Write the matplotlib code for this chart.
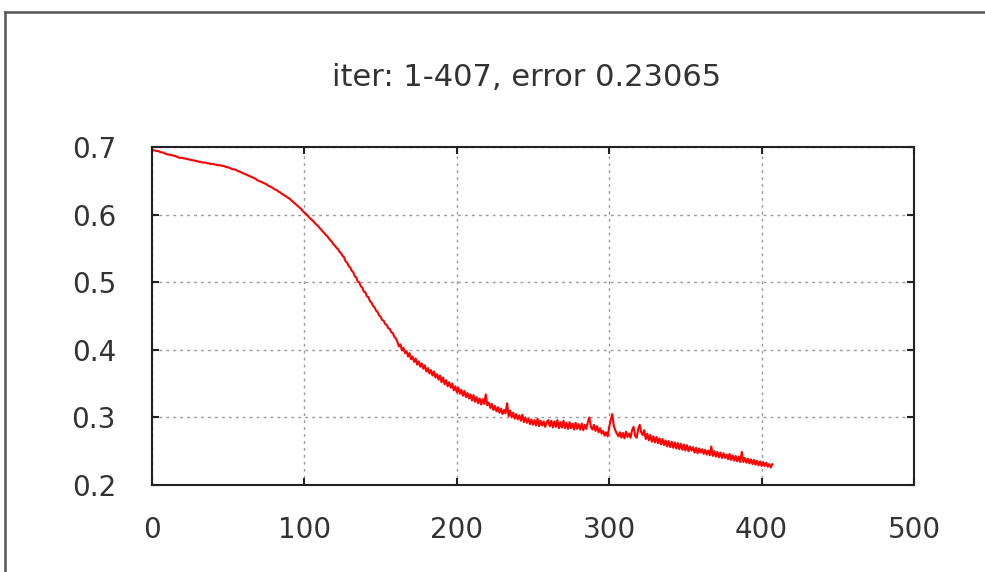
import numpy as np
import matplotlib.pyplot as plt
from matplotlib.lines import Line2D

# error per iteration (iter 1..407)
error = [
    0.695, 0.695, 0.694, 0.694, 0.693, 0.692, 0.692, 0.691, 0.690, 0.689,
    0.689, 0.688, 0.688, 0.687, 0.687, 0.686, 0.685, 0.684, 0.684, 0.684,
    0.683, 0.683, 0.682, 0.682, 0.681, 0.681, 0.680, 0.680, 0.679, 0.679,
    0.678, 0.678, 0.677, 0.677, 0.677, 0.676, 0.676, 0.675, 0.675, 0.675,
    0.674, 0.674, 0.673, 0.673, 0.673, 0.672, 0.672, 0.671, 0.670, 0.670,
    0.669, 0.668, 0.667, 0.667, 0.666, 0.665, 0.664, 0.663, 0.662, 0.661,
    0.660, 0.659, 0.658, 0.657, 0.656, 0.655, 0.654, 0.653, 0.651, 0.650,
    0.649, 0.648, 0.647, 0.646, 0.645, 0.643, 0.642, 0.641, 0.640, 0.638,
    0.637, 0.636, 0.634, 0.633, 0.631, 0.630, 0.628, 0.627, 0.625, 0.624,
    0.622, 0.620, 0.618, 0.616, 0.614, 0.612, 0.610, 0.608, 0.605, 0.603,
    0.601, 0.599, 0.596, 0.594, 0.592, 0.590, 0.587, 0.585, 0.583, 0.580,
    0.578, 0.575, 0.573, 0.570, 0.568, 0.565, 0.562, 0.560, 0.556, 0.554,
    0.551, 0.549, 0.545, 0.543, 0.539, 0.537, 0.531, 0.529, 0.524, 0.522,
    0.517, 0.515, 0.509, 0.507, 0.501, 0.500, 0.494, 0.492, 0.486, 0.485,
    0.479, 0.478, 0.472, 0.470, 0.465, 0.463, 0.458, 0.456, 0.451, 0.449,
    0.444, 0.443, 0.438, 0.437, 0.432, 0.431, 0.426, 0.425, 0.419, 0.417,
    0.412, 0.405, 0.408, 0.399, 0.403, 0.395, 0.398, 0.390, 0.395, 0.386,
    0.390, 0.382, 0.387, 0.378, 0.383, 0.375, 0.380, 0.372, 0.377, 0.368,
    0.373, 0.365, 0.370, 0.362, 0.368, 0.359, 0.364, 0.356, 0.362, 0.352,
    0.359, 0.349, 0.355, 0.346, 0.352, 0.344, 0.350, 0.340, 0.346, 0.337,
    0.344, 0.335, 0.341, 0.332, 0.339, 0.330, 0.336, 0.328, 0.334, 0.325,
    0.333, 0.323, 0.330, 0.321, 0.328, 0.319, 0.327, 0.320, 0.334, 0.318,
    0.322, 0.314, 0.320, 0.311, 0.317, 0.309, 0.315, 0.307, 0.313, 0.305,
    0.311, 0.306, 0.321, 0.302, 0.310, 0.300, 0.307, 0.298, 0.305, 0.297,
    0.303, 0.295, 0.304, 0.293, 0.300, 0.292, 0.298, 0.290, 0.297, 0.289,
    0.296, 0.288, 0.298, 0.287, 0.295, 0.288, 0.294, 0.286, 0.293, 0.296,
    0.287, 0.295, 0.285, 0.294, 0.286, 0.296, 0.284, 0.293, 0.285, 0.295,
    0.284, 0.292, 0.283, 0.293, 0.284, 0.291, 0.282, 0.292, 0.283, 0.290,
    0.282, 0.291, 0.281, 0.289, 0.283, 0.293, 0.300, 0.286, 0.282, 0.289,
    0.280, 0.287, 0.278, 0.284, 0.276, 0.280, 0.273, 0.278, 0.272, 0.286,
    0.296, 0.305, 0.288, 0.281, 0.276, 0.272, 0.278, 0.270, 0.277, 0.269,
    0.279, 0.271, 0.276, 0.270, 0.281, 0.286, 0.273, 0.270, 0.282, 0.289,
    0.278, 0.274, 0.281, 0.268, 0.276, 0.266, 0.274, 0.264, 0.272, 0.263,
    0.271, 0.262, 0.269, 0.260, 0.268, 0.259, 0.266, 0.257, 0.265, 0.256,
    0.264, 0.255, 0.263, 0.254, 0.262, 0.253, 0.261, 0.252, 0.260, 0.251,
    0.259, 0.250, 0.257, 0.251, 0.256, 0.248, 0.255, 0.247, 0.254, 0.248,
    0.253, 0.246, 0.252, 0.245, 0.251, 0.244, 0.257, 0.243, 0.250, 0.242,
    0.249, 0.241, 0.248, 0.240, 0.247, 0.240, 0.245, 0.238, 0.246, 0.237,
    0.244, 0.236, 0.243, 0.235, 0.242, 0.234, 0.249, 0.234, 0.240, 0.233,
    0.239, 0.232, 0.238, 0.231, 0.237, 0.230, 0.236, 0.229, 0.235, 0.228,
    0.234, 0.228, 0.233, 0.227, 0.231, 0.226, 0.2307,
]
iters = np.arange(1, len(error) + 1)

x_ticks = [0, 100, 200, 300, 400, 500]
y_ticks = [0.2, 0.3, 0.4, 0.5, 0.6, 0.7]
y_labels = ['0.2', '0.3', '0.4', '0.5', '0.6', '0.7']
title = 'iter: 1-407, error 0.23065'

fig = plt.figure(figsize=(9.85, 5.72), dpi=100)
ax = fig.add_axes([152/985, 1 - 485/572, 762/985, 338/572])

ax.plot(iters, error, color='red', lw=1.5)

ax.set_xlim(0, 500)
ax.set_ylim(0.2, 0.7)
ax.set_xticks(x_ticks)
ax.set_yticks(y_ticks)
ax.set_yticklabels(y_labels)

ax.grid(True, color='#999999', linestyle=(0, (2, 3)), linewidth=1.0)
ax.tick_params(direction='in', length=5, width=1.5, top=True, right=True,
               labelsize=20, labelcolor='#333333', color='#222222')
ax.tick_params(axis='x', pad=22)
ax.tick_params(axis='y', pad=26)
for s in ax.spines.values():
    s.set_linewidth(1.5)
    s.set_color('#222222')

fig.text(527/985, 1 - 77/572, title, ha='center', va='center',
         fontsize=22, color='#333333')

# screenshot frame (top and left edge)
fig.add_artist(Line2D([5/985, 1], [1 - 12/572, 1 - 12/572],
                      transform=fig.transFigure, color='#555555', lw=1.8))
fig.add_artist(Line2D([5/985, 5/985], [0, 1 - 12/572],
                      transform=fig.transFigure, color='#555555', lw=1.8))

fig.savefig('out.png', dpi=100)
